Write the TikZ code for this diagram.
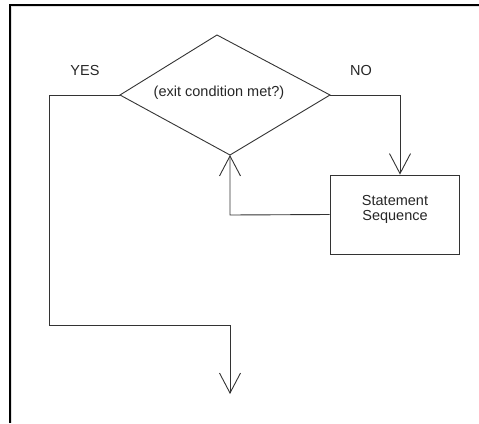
\documentclass[tikz,border=0pt]{standalone}
\usepackage{fontspec}
\setmainfont{Liberation Sans}
\usetikzlibrary{arrows.meta}
\begin{document}
\begin{tikzpicture}[x=1pt,y=-1pt,
  flow/.style={draw=black!80, line width=0.9pt},
  barb/.style={-{Straight Barb[length=20pt,width=21pt,line width=0.9pt]}},
  lbl/.style={font=\fontsize{14.5}{15}\selectfont, text=black!85, inner sep=0pt, align=center},
  frame/.style={line width=2pt, draw=black},
  stmtbox/.style={flow, minimum width=129pt, minimum height=79pt, inner sep=0pt}]
\useasboundingbox (0,0) rectangle (479,423);
% page frame (top and left edges)
\draw[frame] (9.5,423) -- (9.5,4.5) -- (479,4.5);
\draw[black!12, line width=0.8pt] (11.5,423) -- (11.5,6.5) -- (479,6.5);

% decision diamond corners
\coordinate (dt) at (217,35);
\coordinate (dl) at (120,95);
\coordinate (dr) at (330,95);
\coordinate (db) at (230,155);
\draw[flow, line join=miter] (dt) -- (dr) -- (db) -- (dl) -- cycle;
\node[lbl] (cond) at (219,93) {(exit condition met?)};

% loop body
\node[stmtbox] (stmt) at (394.5,214.5) {};
\node[lbl] (stmttext) at (395,209) {Statement\\Sequence};

% branch labels
\node[lbl] (yes) at (85,71) {YES};
\node[lbl] (no) at (361,71) {NO};

% bend points and exit
\coordinate (nc) at (400,95);
\coordinate (yc1) at (49,95);
\coordinate (yc2) at (49,325);
\coordinate (yc3) at (230,325);
\coordinate (exit) at (230,394);
\coordinate (rc) at (230,215);

% NO branch into the statement sequence
\draw[flow, barb] (dr) -- (nc) -- (nc |- stmt.north);
% back to the decision
\draw[flow, barb] (stmt.west) -- (rc) -- (db);
% YES branch leaves the loop
\draw[flow, barb] (dl) -- (yc1) -- (yc2) -- (yc3) -- (exit);
\end{tikzpicture}
\end{document}
